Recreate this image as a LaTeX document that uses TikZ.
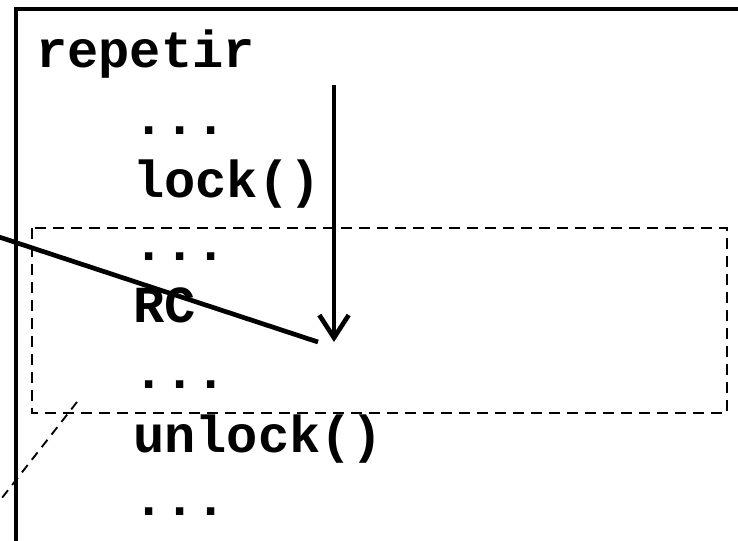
\documentclass[tikz,border=0pt]{standalone}
\usepackage{fontspec}
\setmonofont{Liberation Mono}
\usetikzlibrary{arrows.meta}
\tikzset{
  code/.style={font=\ttfamily\bfseries\fontsize{39}{45}\selectfont, anchor=base west, inner sep=0pt},
}
\begin{document}
\begin{tikzpicture}[x=0.75pt, y=-0.75pt]
    \clip (0,0) rectangle (738,540);
    \useasboundingbox (0,0) rectangle (738,540);
    
    \draw[line width=2.3pt] (16,9) rectangle (760,570);
    
    \node[code] (repetir) at (36,67) {repetir};
    \node[code] (dotsA) at (133,134) {...};
    \node[code] (lock) at (133,197) {lock()};
    \node[code] (dotsB) at (133,260) {...};
    \node[code] (rc) at (133,322) {RC};
    \node[code] (dotsC) at (133,388) {...};
    \node[code] (unlock) at (133,452) {unlock()};
    \node[code] (dotsD) at (133,515) {...};
    
    % zona critica
    \draw[line width=2pt, dash pattern=on 8pt off 5.5pt] (32,228) rectangle (727,413);
    
    \coordinate (flowstart) at (334,85);
    \coordinate (flowend) at (334,342);
    \draw[line width=3.5pt, -{Straight Barb[length=17pt, width=22pt]}] (flowstart) -- (flowend);
    
    \coordinate (cutA) at (-10,234);
    \coordinate (cutB) at (318,342);
    \draw[line width=3.5pt] (cutA) -- (cutB);
    
    \coordinate (hintA) at (77,402);
    \coordinate (hintB) at (-2,503);
    \draw[line width=1.4pt, dash pattern=on 7pt off 5pt] (hintA) -- (hintB);
\end{tikzpicture}
\end{document}
